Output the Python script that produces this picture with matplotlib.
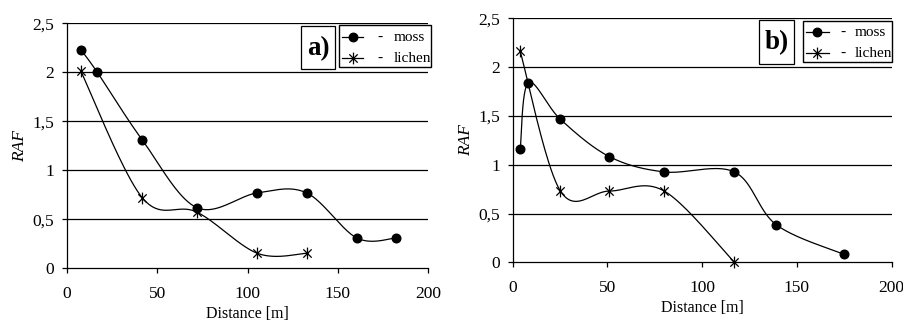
import numpy as np
import matplotlib
matplotlib.use("Agg")
import matplotlib.pyplot as plt
from matplotlib.lines import Line2D
from matplotlib.path import Path

plt.rcParams['font.family'] = ['Liberation Serif', 'DejaVu Serif']

# Panel a)
a_moss_x = [7.7, 16.8, 41.7, 71.8, 105.5, 132.7, 160.5, 182.5]
a_moss_y = [2.23, 2.00, 1.31, 0.62, 0.77, 0.77, 0.31, 0.31]
a_lichen_x = [7.7, 41.7, 71.8, 105.5, 132.7]
a_lichen_y = [2.01, 0.72, 0.575, 0.153, 0.153]

# Panel b)
b_moss_x = [4.0, 8.3, 25.2, 51.0, 80.0, 117.0, 139.0, 174.8]
b_moss_y = [1.16, 1.84, 1.465, 1.083, 0.926, 0.926, 0.386, 0.082]
b_lichen_x = [4.0, 25.2, 51.0, 80.0, 117.0]
b_lichen_y = [2.16, 0.73, 0.73, 0.73, 0.0]

yticks = [0, 0.5, 1, 1.5, 2, 2.5]
ytick_labels = ['0', '0,5', '1', '1,5', '2', '2,5']
xticks = [0, 50, 100, 150, 200]
series_labels = ['moss', 'lichen']


def smooth(x, y, n=40):
    """Excel-like smoothed line (Catmull-Rom Bezier)."""
    x = np.asarray(x, float)
    y = np.asarray(y, float)
    P = np.column_stack([x, y])
    out = []
    for i in range(len(P) - 1):
        p0 = P[i - 1] if i > 0 else P[i]
        p1 = P[i]
        p2 = P[i + 1]
        p3 = P[i + 2] if i + 2 < len(P) else P[i + 1]
        c1 = p1 + (p2 - p0) / 6.0
        c2 = p2 - (p3 - p1) / 6.0
        t = np.linspace(0, 1, n)[:, None]
        seg = ((1 - t) ** 3) * p1 + 3 * ((1 - t) ** 2) * t * c1 + 3 * (1 - t) * t ** 2 * c2 + t ** 3 * p2
        out.append(seg if i == 0 else seg[1:])
    S = np.vstack(out)
    return S[:, 0], S[:, 1]


# Excel-style star marker: vertical bar + X
d = 0.7071
star = Path([(0, -1), (0, 1), (-d, -d), (d, d), (-d, d), (d, -d)],
            [Path.MOVETO, Path.LINETO, Path.MOVETO, Path.LINETO, Path.MOVETO, Path.LINETO])

fig = plt.figure(figsize=(9.04, 3.23), dpi=100)
axa = fig.add_axes([0.0741, 0.1693, 0.3994, 0.7585])
axb = fig.add_axes([0.5671, 0.1879, 0.4193, 0.7554])

W, H = 904, 323

panels = [
    (axa, a_moss_x, a_moss_y, a_lichen_x, a_lichen_y, 'a)',
     (300.7, 26.3, 335.3, 69.3), (338.7, 25.3, 431, 66.7),
     (342, 363.3, 380, 393.3, 37.3, 58.3)),
    (axb, b_moss_x, b_moss_y, b_lichen_x, b_lichen_y, 'b)',
     (759, 20, 793.7, 64), (803, 20.7, 891.7, 62),
     (806, 828.7, 842.7, 854.3, 32.3, 53.3)),
]


def fx(px):
    return px / W


def fy(py):
    return 1 - py / H


MS_O = 6.2
MS_S = 8.5

for ax, mx, my, lx, ly, tag, tagbox, legbox, leg in panels:
    ax.set_xlim(0, 200)
    ax.set_ylim(0, 2.5)
    for yv in yticks[1:]:
        ax.axhline(yv, color='black', lw=0.9, zorder=1)
    sx, sy = smooth(mx, my)
    ax.plot(sx, sy, color='black', lw=0.9, zorder=2)
    ax.plot(mx, my, 'o', color='black', ms=MS_O, zorder=3, clip_on=False)
    sx, sy = smooth(lx, ly)
    ax.plot(sx, sy, color='black', lw=0.9, zorder=2)
    ax.plot(lx, ly, marker=star, ls='none', color='black', ms=MS_S, mew=0.9, zorder=3,
            clip_on=False)

    ax.set_xticks(xticks)
    ax.set_yticks(yticks)
    ax.set_yticklabels(ytick_labels)
    ax.tick_params(axis='both', labelsize=12.5, direction='out', length=3.8, width=0.9,
                   color='black')
    ax.tick_params(axis='y', pad=5.5)
    ax.tick_params(axis='x', pad=9)
    for s in ['top', 'right']:
        ax.spines[s].set_visible(False)
    for s in ['left', 'bottom']:
        ax.spines[s].set_linewidth(0.9)
    ax.set_xlabel('Distance [m]', fontsize=11.5, labelpad=3)
    ax.set_ylabel('RAF', fontsize=12.5, style='italic', labelpad=3)

    # tag box
    x0, y0, x1, y1 = tagbox
    rect = plt.Rectangle((fx(x0), fy(y1)), (x1 - x0) / W, (y1 - y0) / H,
                         transform=fig.transFigure, facecolor='white',
                         edgecolor='black', lw=0.9, zorder=5)
    fig.patches.append(rect)
    fig.text(fx((x0 + x1) / 2), fy((y0 + y1) / 2 + 1), tag, fontsize=19.5, fontweight='bold',
             ha='center', va='center', zorder=6)

    # legend box
    x0, y0, x1, y1 = legbox
    rect = plt.Rectangle((fx(x0), fy(y1)), (x1 - x0) / W, (y1 - y0) / H,
                         transform=fig.transFigure, facecolor='white',
                         edgecolor='black', lw=1.0, zorder=5)
    fig.patches.append(rect)
    hx0, hx1, dashx, tx, ry1, ry2 = leg
    for (ry, mk, ms), lab in zip([(ry1, 'o', MS_O), (ry2, star, MS_S)], series_labels):
        fig.lines.append(Line2D([fx(hx0), fx(hx1)], [fy(ry), fy(ry)], color='black', lw=0.9,
                                transform=fig.transFigure, zorder=6))
        fig.lines.append(Line2D([fx((hx0 + hx1) / 2)], [fy(ry)], marker=mk, ms=ms, mew=0.9,
                                color='black', ls='none', transform=fig.transFigure, zorder=7))
        fig.text(fx(dashx), fy(ry), '-', fontsize=11, ha='center', va='center', zorder=7)
        fig.text(fx(tx), fy(ry), lab, fontsize=11, ha='left', va='center', zorder=7)

fig.savefig('out.png', dpi=100)
